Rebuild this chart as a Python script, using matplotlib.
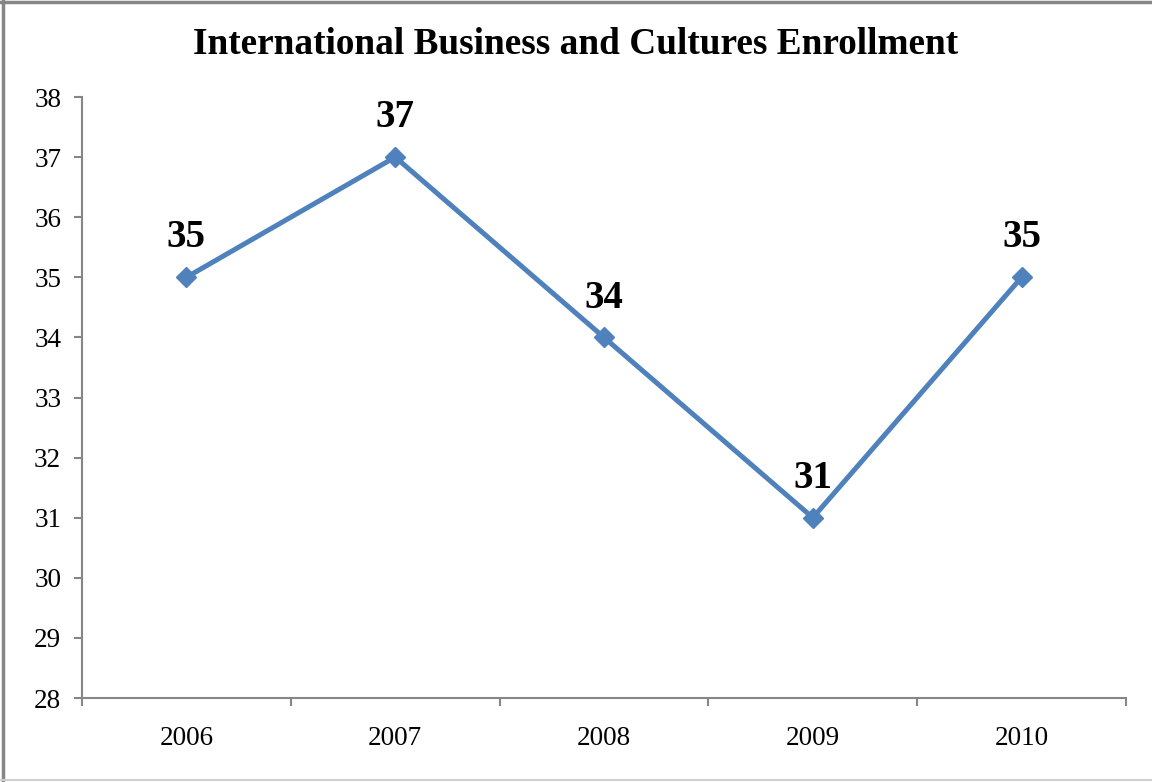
import matplotlib.pyplot as plt
from matplotlib.lines import Line2D
from matplotlib.ticker import FixedLocator, NullFormatter

years = ['2006', '2007', '2008', '2009', '2010']
enrollment = [35, 37, 34, 31, 35]

plt.rcParams['font.family'] = ['Liberation Serif', 'DejaVu Serif']

fig = plt.figure(figsize=(11.52, 7.82), dpi=100)
ax = fig.add_axes([82 / 1152, 1 - 698 / 782, (1126 - 82) / 1152, (698 - 97) / 782])

x = list(range(len(years)))
ax.plot(x, enrollment, color='#4F81BD', linewidth=3.6, marker='D',
        markersize=10, markerfacecolor='#4F81BD', markeredgecolor='#4F81BD')

for xi, v in zip(x, enrollment):
    ax.annotate(str(v), (xi, v), xytext=(0, 15), textcoords='offset points',
                ha='center', va='bottom', fontsize=28, fontweight='bold')

ax.set_xlim(-0.5, len(years) - 0.5)
ax.set_ylim(28, 38)
ax.set_yticks(range(28, 39))
ax.set_xticks(x)
ax.set_xticklabels(years)
ax.xaxis.set_minor_locator(FixedLocator([i - 0.5 for i in range(len(years) + 1)]))
ax.xaxis.set_minor_formatter(NullFormatter())

gray = '#868686'
for side in ['top', 'right']:
    ax.spines[side].set_visible(False)
for side in ['left', 'bottom']:
    ax.spines[side].set_color(gray)
    ax.spines[side].set_linewidth(1.5)

ax.tick_params(axis='y', direction='out', length=6, width=1.5, color=gray,
               labelsize=19.5, pad=9)
ax.tick_params(axis='x', which='major', length=0, labelsize=19.5, pad=20)
ax.tick_params(axis='x', which='minor', direction='out', length=6, width=1.5, color=gray)

fig.text(0.5, 1 - 44 / 782, 'International Business and Cultures Enrollment',
         ha='center', va='center', fontsize=26.8, fontweight='bold')

# outer chart frame: dark top/left edges, faint bottom edge
fig.lines.append(Line2D([0.003, 0.003], [0, 1], transform=fig.transFigure,
                        color=gray, linewidth=2.5))
fig.lines.append(Line2D([0, 1], [0.998, 0.998], transform=fig.transFigure,
                        color=gray, linewidth=2.5))
fig.lines.append(Line2D([0, 1], [0.003, 0.003], transform=fig.transFigure,
                        color='#D0D0D0', linewidth=1.5))

fig.savefig('out.png', dpi=100, facecolor='white')
